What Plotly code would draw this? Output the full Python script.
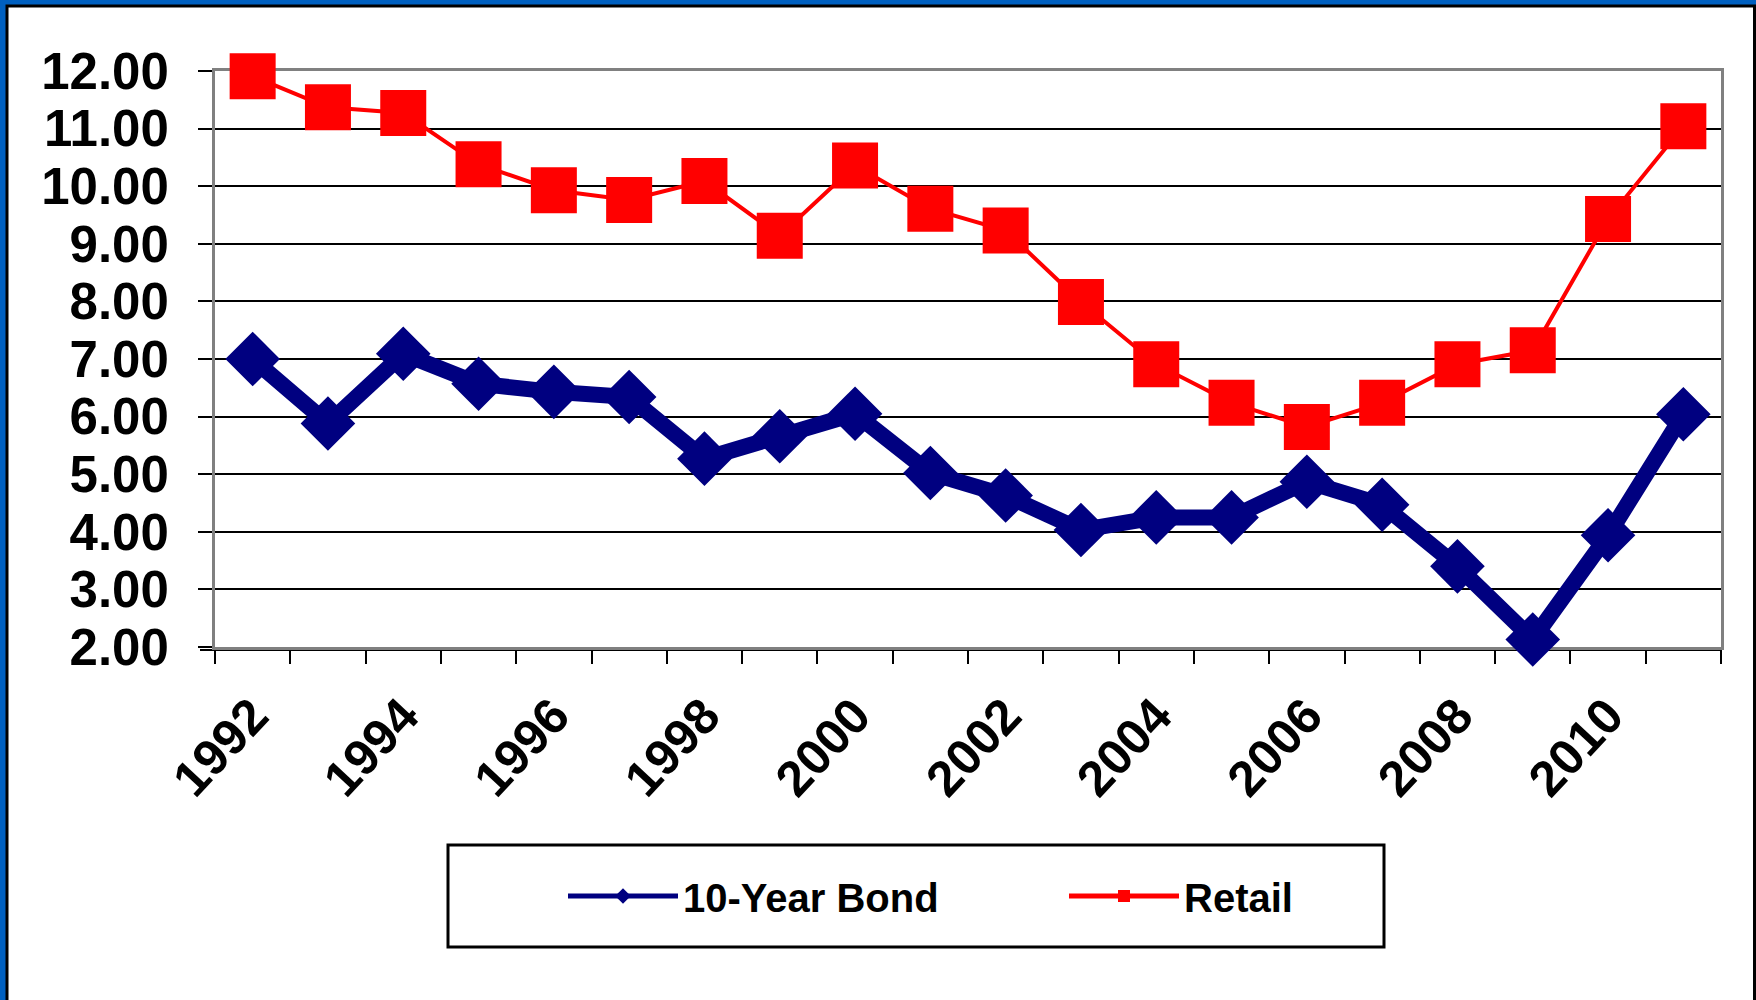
import plotly.graph_objects as go

# ---- data ----
years = [1992, 1993, 1994, 1995, 1996, 1997, 1998, 1999, 2000, 2001,
         2002, 2003, 2004, 2005, 2006, 2007, 2008, 2009, 2010, 2011]
bond = [7.00, 5.88, 7.09, 6.57, 6.43, 6.34, 5.27, 5.66, 6.05, 5.02,
        4.63, 4.03, 4.25, 4.25, 4.87, 4.47, 3.40, 2.13, 3.94, 6.04]
retail = [11.91, 11.37, 11.27, 10.38, 9.93, 9.76, 10.09, 9.14, 10.36, 9.61,
          9.23, 7.99, 6.91, 6.24, 5.82, 6.24, 6.91, 7.15, 9.43, 11.04]
x_tick_years = [1992, 1994, 1996, 1998, 2000, 2002, 2004, 2006, 2008, 2010]
x_tick_labels = [str(y) for y in x_tick_years]
y_ticks = [2, 3, 4, 5, 6, 7, 8, 9, 10, 11, 12]
series_names = ["10-Year Bond", "Retail"]

# ---- layout geometry (pixels) ----
W, H = 1756, 1000
L, R, T, B = 215, 35, 71, 353
PW, PH = W - L - R, H - T - B


def px(x):
    return (x - L) / PW


def py(y):
    return (H - B - y) / PH


FONT = "Liberation Sans, Arial, sans-serif"

fig = go.Figure()
fig.add_trace(go.Scatter(
    x=years, y=bond, name=series_names[0], mode="lines+markers",
    line=dict(color="#000080", width=16),
    marker=dict(symbol="diamond", size=42, color="#000080"),
    cliponaxis=False,
))
fig.add_trace(go.Scatter(
    x=years, y=retail, name=series_names[1], mode="lines+markers",
    line=dict(color="#FF0000", width=4),
    marker=dict(symbol="square", size=46, color="#FF0000"),
    cliponaxis=False,
))

boundaries = [y - 0.5 for y in years] + [years[-1] + 0.5]

fig.update_layout(
    width=W, height=H,
    margin=dict(l=L, r=R, t=T, b=B, autoexpand=False),
    paper_bgcolor="#0060C0",
    plot_bgcolor="white",
    showlegend=True,
    legend=dict(
        orientation="h",
        x=px(563), xanchor="left",
        y=py(896), yanchor="middle",
        bgcolor="rgba(0,0,0,0)", borderwidth=0,
        font=dict(family=FONT, size=40, color="black", weight="bold"),
        itemwidth=110,
        entrywidth=376, entrywidthmode="pixels",
        itemsizing="constant",
    ),
    xaxis=dict(
        range=[1991.5, 2011.5],
        tickmode="array", tickvals=x_tick_years, ticktext=x_tick_labels,
        ticks="", tickangle=-47,
        tickfont=dict(family=FONT, size=50, color="black", weight="bold"),
        ticklabelstandoff=16,
        showgrid=False, zeroline=False,
        showline=True, linecolor="#808080", linewidth=3, mirror=True,
        layer="below traces",
        minor=dict(tickmode="array", tickvals=boundaries, ticks="outside",
                   ticklen=14, tickwidth=2, tickcolor="black", showgrid=False),
    ),
    yaxis=dict(
        range=[2, 12],
        tickmode="array", tickvals=y_ticks, tickformat=".2f",
        ticks="outside", ticklen=14, tickwidth=2, tickcolor="black",
        tickfont=dict(family=FONT, size=51, color="black", weight="bold"),
        ticklabelstandoff=19,
        showgrid=True, gridcolor="black", gridwidth=2,
        zeroline=False,
        showline=True, linecolor="#808080", linewidth=3, mirror=True,
        layer="below traces",
    ),
    shapes=[
        # white slide area with thin black edge
        dict(type="rect", xref="paper", yref="paper",
             x0=px(7), x1=px(1754.5), y0=py(1010), y1=py(6),
             fillcolor="white", line=dict(color="black", width=3), layer="below"),
        # legend box
        dict(type="rect", xref="paper", yref="paper",
             x0=px(448), x1=px(1384), y0=py(947), y1=py(845),
             fillcolor="white", line=dict(color="black", width=3), layer="below"),
        # black x-axis line just under the grey frame
        dict(type="line", xref="paper", yref="paper",
             x0=px(200), x1=1.0, y0=py(650), y1=py(650),
             line=dict(color="black", width=2), layer="below"),
    ],
)

fig.write_html(
    "out.html",
    config={"displayModeBar": False},
    post_script="document.body.style.margin='0';document.body.style.overflow='hidden';",
)
